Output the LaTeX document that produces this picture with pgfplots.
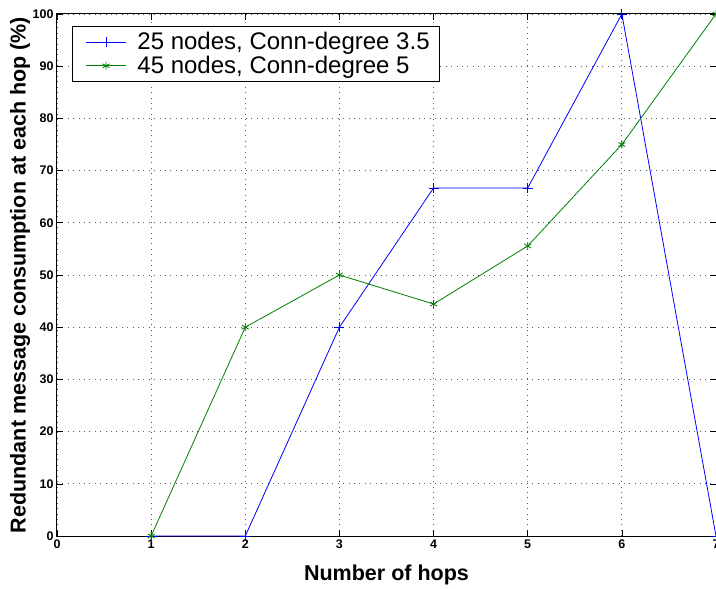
\documentclass[border=0pt]{standalone}
\usepackage{pgfplots}
\pgfplotsset{compat=1.18}
\usepackage{fontspec}
\setmainfont{Liberation Sans}
\definecolor{mgreen}{rgb}{0,0.5,0}
\begin{document}
\begin{tikzpicture}[trim axis right]
\begin{axis}[
    name=ax,
    scale only axis,
    width=659pt, height=522pt,
    xmin=0, xmax=7, ymin=0, ymax=100,
    xtick={0,...,7},
    ytick={0,10,...,100},
    tick align=inside,
    xtick pos=both, ytick pos=both,
    major tick length=6pt,
    grid=major,
    major grid style={dash pattern=on 0.9pt off 4.5pt, gray!70!black, line width=0.8pt},
    axis line style={line width=1pt},
    tick style={black, line width=0.6pt},
    tick label style={font=\fontsize{12.5}{12.5}\selectfont\bfseries},
    /pgf/number format/assume math mode=true,
    xlabel={Number of hops},
    ylabel={Redundant message consumption at each hop (\%)},
    every axis x label/.style={at={(axis description cs:0.5,-0.0747)}, anchor=center,
        font=\fontsize{21.5}{21.5}\selectfont\bfseries},
    every axis y label/.style={at={(axis description cs:-0.0561,0.5)}, rotate=90, anchor=center,
        font=\fontsize{21.5}{21.5}\selectfont\bfseries},
    legend style={at={(rel axis cs:0.023,0.977)}, anchor=north west,
        font=\fontsize{24}{26}\selectfont, draw=black, line width=1pt,
        inner xsep=8pt, inner ysep=4pt, row sep=1pt},
    legend cell align=left,
    legend image code/.code={
        \path (0pt,0pt) (54pt,0pt);
        \draw[line width=0.8pt, mark repeat=2, mark phase=2]
            plot coordinates {(5pt,0pt) (25pt,0pt) (45pt,0pt)};},
]
\addplot[blue, line width=0.8pt, mark=+, mark size=5pt] coordinates {
    (1,0) (2,0) (3,40) (4,66.67) (5,66.67) (6,100) (7,0)
};
\addplot[mgreen, line width=0.8pt, mark=asterisk, mark size=4pt] coordinates {
    (1,0) (2,40) (3,50) (4,44.44) (5,55.56) (6,75) (7,100)
};
\legend{{25 nodes, Conn-degree 3.5}, {45 nodes, Conn-degree 5}}
\end{axis}
\path (ax.south west) ++(-57pt,-50pt) coordinate (bl);
\path (ax.north west) ++(0,14pt) coordinate (tl);
\end{tikzpicture}
\end{document}
